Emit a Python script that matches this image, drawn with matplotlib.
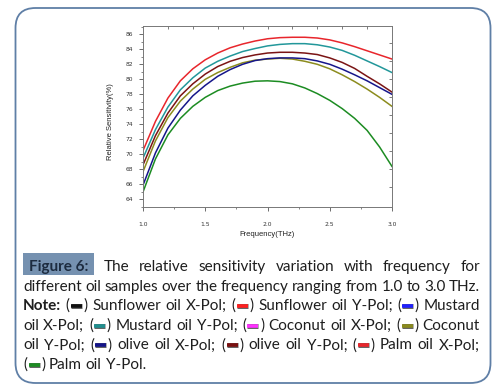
import numpy as np
import matplotlib
matplotlib.use('Agg')
import matplotlib.pyplot as plt
from matplotlib.patches import FancyBboxPatch, Rectangle
from matplotlib.lines import Line2D
from matplotlib.transforms import IdentityTransform
import matplotlib.patheffects as pe

#frequency grid (THz) and the sensitivity curves (%)
freq = [1.0, 1.1, 1.2, 1.3, 1.4, 1.5, 1.6, 1.7, 1.8, 1.9, 2.0,
        2.1, 2.2, 2.3, 2.4, 2.5, 2.6, 2.7, 2.8, 2.9, 3.0]
palm_x = [70.5, 74.4, 77.5, 79.8, 81.4, 82.6, 83.5, 84.2, 84.7, 85.1, 85.4,
          85.55, 85.6, 85.6, 85.5, 85.25, 84.85, 84.35, 83.8, 83.25, 82.7]
mustard_y = [69.5, 73.3, 76.3, 78.6, 80.2, 81.5, 82.4, 83.1, 83.7, 84.1, 84.45,
             84.65, 84.75, 84.75, 84.6, 84.3, 83.85, 83.2, 82.45, 81.7, 80.9]
olive_y = [68.6, 72.5, 75.5, 77.8, 79.4, 80.7, 81.7, 82.4, 82.9, 83.25, 83.5,
           83.6, 83.6, 83.5, 83.3, 82.85, 82.25, 81.45, 80.4, 79.4, 78.3]
coconut_y = [67.7, 71.8, 74.9, 77.1, 78.7, 80.0, 80.9, 81.6, 82.2, 82.55, 82.7,
             82.8, 82.7, 82.4, 82.0, 81.4, 80.6, 79.7, 78.7, 77.6, 76.4]
olive_x = [65.9, 70.2, 73.5, 75.9, 77.8, 79.2, 80.4, 81.3, 82.0, 82.5, 82.75,
           82.85, 82.85, 82.75, 82.45, 82.0, 81.35, 80.6, 79.8, 78.9, 78.0]
palm_y = [65.0, 69.4, 72.6, 74.8, 76.4, 77.6, 78.5, 79.1, 79.5, 79.75, 79.8,
          79.7, 79.4, 78.85, 78.1, 77.2, 76.1, 74.8, 73.2, 71.0, 68.4]

series = [(coconut_y, '#8c8c1e'), (olive_x, '#16168a'), (olive_y, '#7a1414'),
          (mustard_y, '#22979a'), (palm_x, '#e8262c'), (palm_y, '#1c8c22')]

x_ticks = [1.0, 1.5, 2.0, 2.5, 3.0]
x_ticklabels = ['1.0', '1.5', '2.0', '2.5', '3.0']
y_ticks = [64, 66, 68, 70, 72, 74, 76, 78, 80, 82, 84, 86]

W, H = 498, 391
fig = plt.figure(figsize=(W/100, H/100), dpi=100)
fig.patch.set_facecolor('white')
px = IdentityTransform()

#rounded frame around the whole figure
frame = FancyBboxPatch((15.5, H-383), 475, 375, boxstyle='round,pad=0,rounding_size=20',
                       transform=px, facecolor='none', edgecolor='#5f7fa6', linewidth=1.3)
fig.add_artist(frame)

ax = fig.add_axes([143/W, 1-207/H, 249/W, 181/H])
for y, c in series:
    ax.plot(freq, y, color=c, linewidth=1.1)
ax.set_xlim(1.0, 3.0)
ax.set_ylim(63.05, 87.1)
ax.set_xticks(x_ticks)
ax.set_xticklabels(x_ticklabels)
ax.set_xticks(np.arange(1.0, 3.01, 0.25), minor=True)
ax.set_yticks(y_ticks)
ax.set_yticks(np.arange(63, 88, 1), minor=True)
ax.tick_params(which='major', direction='out', length=3, width=0.6, labelsize=4.3,
               colors='#555555', labelcolor='#333333', pad=4)
ax.tick_params(which='minor', direction='out', length=1.6, width=0.5, colors='#555555')
ax.tick_params(axis='x', pad=8)
for s in ax.spines.values():
    s.set_color('#777777')
    s.set_linewidth(0.7)

top = ax.secondary_xaxis('top')
top.set_xticks(np.arange(1.2, 2.9, 0.2))
top.tick_params(direction='in', length=2.5, width=0.6, colors='#666666', labeltop=False)
top.spines['top'].set_visible(False)
right = ax.secondary_yaxis('right')
right.set_yticks(np.arange(65.6, 86, 2.4))
right.tick_params(direction='in', length=2.5, width=0.6, colors='#666666', labelright=False)
right.spines['right'].set_visible(False)

fig.text(267.5, H-234, 'Frequency(THz)', transform=px, ha='center', va='center',
         fontsize=5.5, family='Liberation Sans', color='#222222')
fig.text(110, H-122, 'Relative Sensitivity(%)', transform=px, ha='center', va='center',
         rotation=90, fontsize=5.5, family='Liberation Sans', color='#222222')

#caption, justified by hand
FONT = 'Lato'
FS = 11.0
TXT = '#1e1e1e'
swatch_colors = ['#111111', '#ff2020', '#2020ff', '#1f8f8f', '#ff30ff',
                 '#8a8a1c', '#14148a', '#7a1010', '#e8262c', '#1c8c22']
lines = [
    "FIG The relative sensitivity variation with frequency for",
    "different oil samples over the frequency ranging from 1.0 to 3.0 THz.",
    "Note: ([]) Sunflower oil X-Pol; ([]) Sunflower oil Y-Pol; ([]) Mustard",
    "oil X-Pol; ([]) Mustard oil Y-Pol; ([]) Coconut oil X-Pol; ([]) Coconut",
    "oil Y-Pol; ([]) olive oil X-Pol; ([]) olive oil Y-Pol; ([]) Palm oil X-Pol;",
    "([]) Palm oil Y-Pol.",
]
baselines = [271, 290.6, 310.2, 329.8, 349.4, 369]
L, R = 23, 480
SW = 14
renderer = fig.canvas.get_renderer()


def text_width(s, bold=False):
    t = fig.text(0, 0, s, transform=px, fontsize=FS, family=FONT,
                 weight='bold' if bold else 'normal')
    w = t.get_window_extent(renderer).width
    t.remove()
    return w


def word_pieces(word):
    if word == 'FIG':
        return [('fig', 'Figure 6:')]
    if '[]' in word:
        a, b = word.split('[]')
        return [('t', a), ('s', None), ('t', b)]
    return [('b', word)] if word == 'Note:' else [('t', word)]


def piece_width(p):
    kind, s = p
    if kind == 's':
        return SW
    if kind == 'fig':
        return text_width(s, True) + 12
    return text_width(s, kind == 'b')


space = text_width('a b') - text_width('ab')
sw_i = 0
for i, line in enumerate(lines):
    words = [word_pieces(w) for w in line.split()]
    widths = [sum(piece_width(p) for p in w) for w in words]
    if i < len(lines) - 1:
        gap = (R - L - sum(widths)) / (len(words) - 1)
    else:
        gap = space
    base = H - baselines[i]
    x = L
    for w, ww in zip(words, widths):
        xx = x
        for kind, s in w:
            pw = piece_width((kind, s))
            if kind == 'fig':
                fig.add_artist(Rectangle((xx, H-275), pw, 22, transform=px,
                                         facecolor='#7591b0', edgecolor='none'))
                fig.text(xx + 6, base, s, transform=px, fontsize=FS, family=FONT,
                         weight='bold', color='#1d2c40', va='baseline')
            elif kind == 's':
                c = swatch_colors[sw_i]
                sw_i += 1
                ln = Line2D([xx + 1.5, xx + SW - 1.5], [base + 4, base + 4], transform=px,
                            color=c, linewidth=2.6, solid_capstyle='butt',
                            path_effects=[pe.Stroke(linewidth=3.6, foreground='#666666'), pe.Normal()])
                fig.add_artist(ln)
            else:
                fig.text(xx, base, s, transform=px, fontsize=FS, family=FONT,
                         weight='bold' if kind == 'b' else 'normal', color=TXT, va='baseline')
            xx += pw
        x += ww + gap

fig.savefig('out.png', dpi=100)
